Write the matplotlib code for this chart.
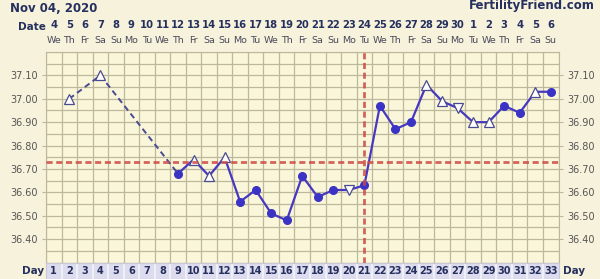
import matplotlib
matplotlib.use("Agg")
import matplotlib.pyplot as plt
import matplotlib.transforms as mtransforms
import numpy as np

# cycle days and temperatures
days = [2, 4, 9, 10, 11, 12, 13, 14, 15, 16, 17, 18, 19, 20, 21,
        22, 23, 24, 25, 26, 27, 28, 29, 30, 31, 32, 33]
temps = [37.00, 37.10, 36.68, 36.74, 36.67, 36.75, 36.56, 36.61, 36.51, 36.48, 36.67,
         36.58, 36.61, 36.61, 36.63, 36.97, 36.87, 36.90, 37.06, 36.99, 36.96, 36.90,
         36.90, 36.97, 36.94, 37.03, 37.03]
# f = filled circle, u = open triangle up, d = open triangle down
kinds = ['u', 'u', 'f', 'u', 'u', 'u', 'f', 'f', 'f', 'f', 'f', 'f', 'f', 'd', 'f',
         'f', 'f', 'f', 'u', 'u', 'd', 'u', 'u', 'f', 'f', 'u', 'f']

date_nums = [str(d) for d in range(4, 31)] + [str(d) for d in range(1, 7)]
week = ['We', 'Th', 'Fr', 'Sa', 'Su', 'Mo', 'Tu']
weekdays = [week[i % 7] for i in range(33)]
cycle_days = list(range(1, 34))
yticks = [36.40, 36.50, 36.60, 36.70, 36.80, 36.90, 37.00, 37.10]
coverline = 36.73
ovulation_day = 21

W, H = 600, 279
bg = '#f6f2dc'
navy = '#26305e'
gridc = '#bdb89c'

fig = plt.figure(figsize=(W / 100, H / 100), dpi=100, facecolor=bg)

x0, x1 = 46, 558.5
y0, y1 = 52, 262.5
ax = fig.add_axes([x0 / W, 1 - y1 / H, (x1 - x0) / W, (y1 - y0) / H])
ax.set_facecolor('#faf6da')
ax.set_xlim(0.5, 33.5)
ax.set_ylim(36.30, 37.20)

for x in np.arange(0.5, 34, 1):
    ax.axvline(x, color=gridc, lw=0.9, zorder=0)
for y in np.arange(36.30, 37.21, 0.05):
    ax.axhline(y, color=gridc, lw=0.9, zorder=0)
for s in ax.spines.values():
    s.set_color(gridc)

ax.set_xticks([])
ax.set_yticks(yticks)
ax.set_yticklabels(['%.2f' % v for v in yticks])
ax.tick_params(axis='y', length=3, color=gridc, labelsize=7, labelcolor='#555555',
               pad=3, left=True, right=True, labelleft=True, labelright=True)

# dashed part (gap days) and solid part
ax.plot(days[:3], temps[:3], ls=(0, (3, 2)), color='#4a4a90', lw=1.4, zorder=2)
ax.plot(days[2:], temps[2:], color='#4638c0', lw=1.6, zorder=2)

for d, t, k in zip(days, temps, kinds):
    if k == 'f':
        ax.plot(d, t, 'o', ms=5.5, color='#3b33c4', mec='#3b33c4', zorder=3)
    else:
        ax.plot(d, t, '^' if k == 'u' else 'v', ms=7, mfc='white', mec='#4a4a90',
                mew=0.9, zorder=3)

ax.axhline(coverline, color='#cc4a45', lw=2, ls=(0, (2.2, 1.3)), zorder=4, alpha=0.85)
ax.axvline(ovulation_day, color='#cc4a45', lw=2, ls=(0, (2.2, 1.3)), zorder=4, alpha=0.85)

# header texts
fig.text(10 / W, 1 - 8 / H, 'Nov 04, 2020', fontsize=8.5, fontweight='bold', color=navy,
         va='center', ha='left')
fig.text(595 / W, 1 - 6 / H, 'FertilityFriend.com', fontsize=8.5, fontweight='bold',
         color=navy, va='center', ha='right')
fig.text(32 / W, 1 - 27 / H, 'Date', fontsize=7.5, fontweight='bold', color=navy,
         va='center', ha='center')

trans = mtransforms.blended_transform_factory(ax.transData, fig.transFigure)
for i, (dn, wd) in enumerate(zip(date_nums, weekdays)):
    ax.text(i + 1, 1 - 24.5 / H, dn, transform=trans, fontsize=7.2, fontweight='bold',
            color=navy, ha='center', va='center')
    ax.text(i + 1, 1 - 40.5 / H, wd, transform=trans, fontsize=6.8, color='#4a4a5a',
            ha='center', va='center')

# cycle day row
dax = fig.add_axes([x0 / W, 0, (x1 - x0) / W, (H - y1) / H])
dax.set_xlim(0.5, 33.5)
dax.set_ylim(0, 1)
dax.set_facecolor('#dcdcee')
dax.set_xticks([])
dax.set_yticks([])
for s in dax.spines.values():
    s.set_color('#c8c8d8')
for x in np.arange(1.5, 33.5, 1):
    dax.axvline(x, color='#f4f4fa', lw=1.2)
for d in cycle_days:
    dax.text(d, 0.5, str(d), fontsize=7, fontweight='bold', color=navy,
             ha='center', va='center')
fig.text(33 / W, 1 - 271 / H, 'Day', fontsize=7.5, fontweight='bold', color=navy,
         ha='center', va='center')
fig.text(563 / W, 1 - 271 / H, 'Day', fontsize=7.5, fontweight='bold', color=navy,
         ha='left', va='center')

fig.savefig('out.png', dpi=100, facecolor=bg)
